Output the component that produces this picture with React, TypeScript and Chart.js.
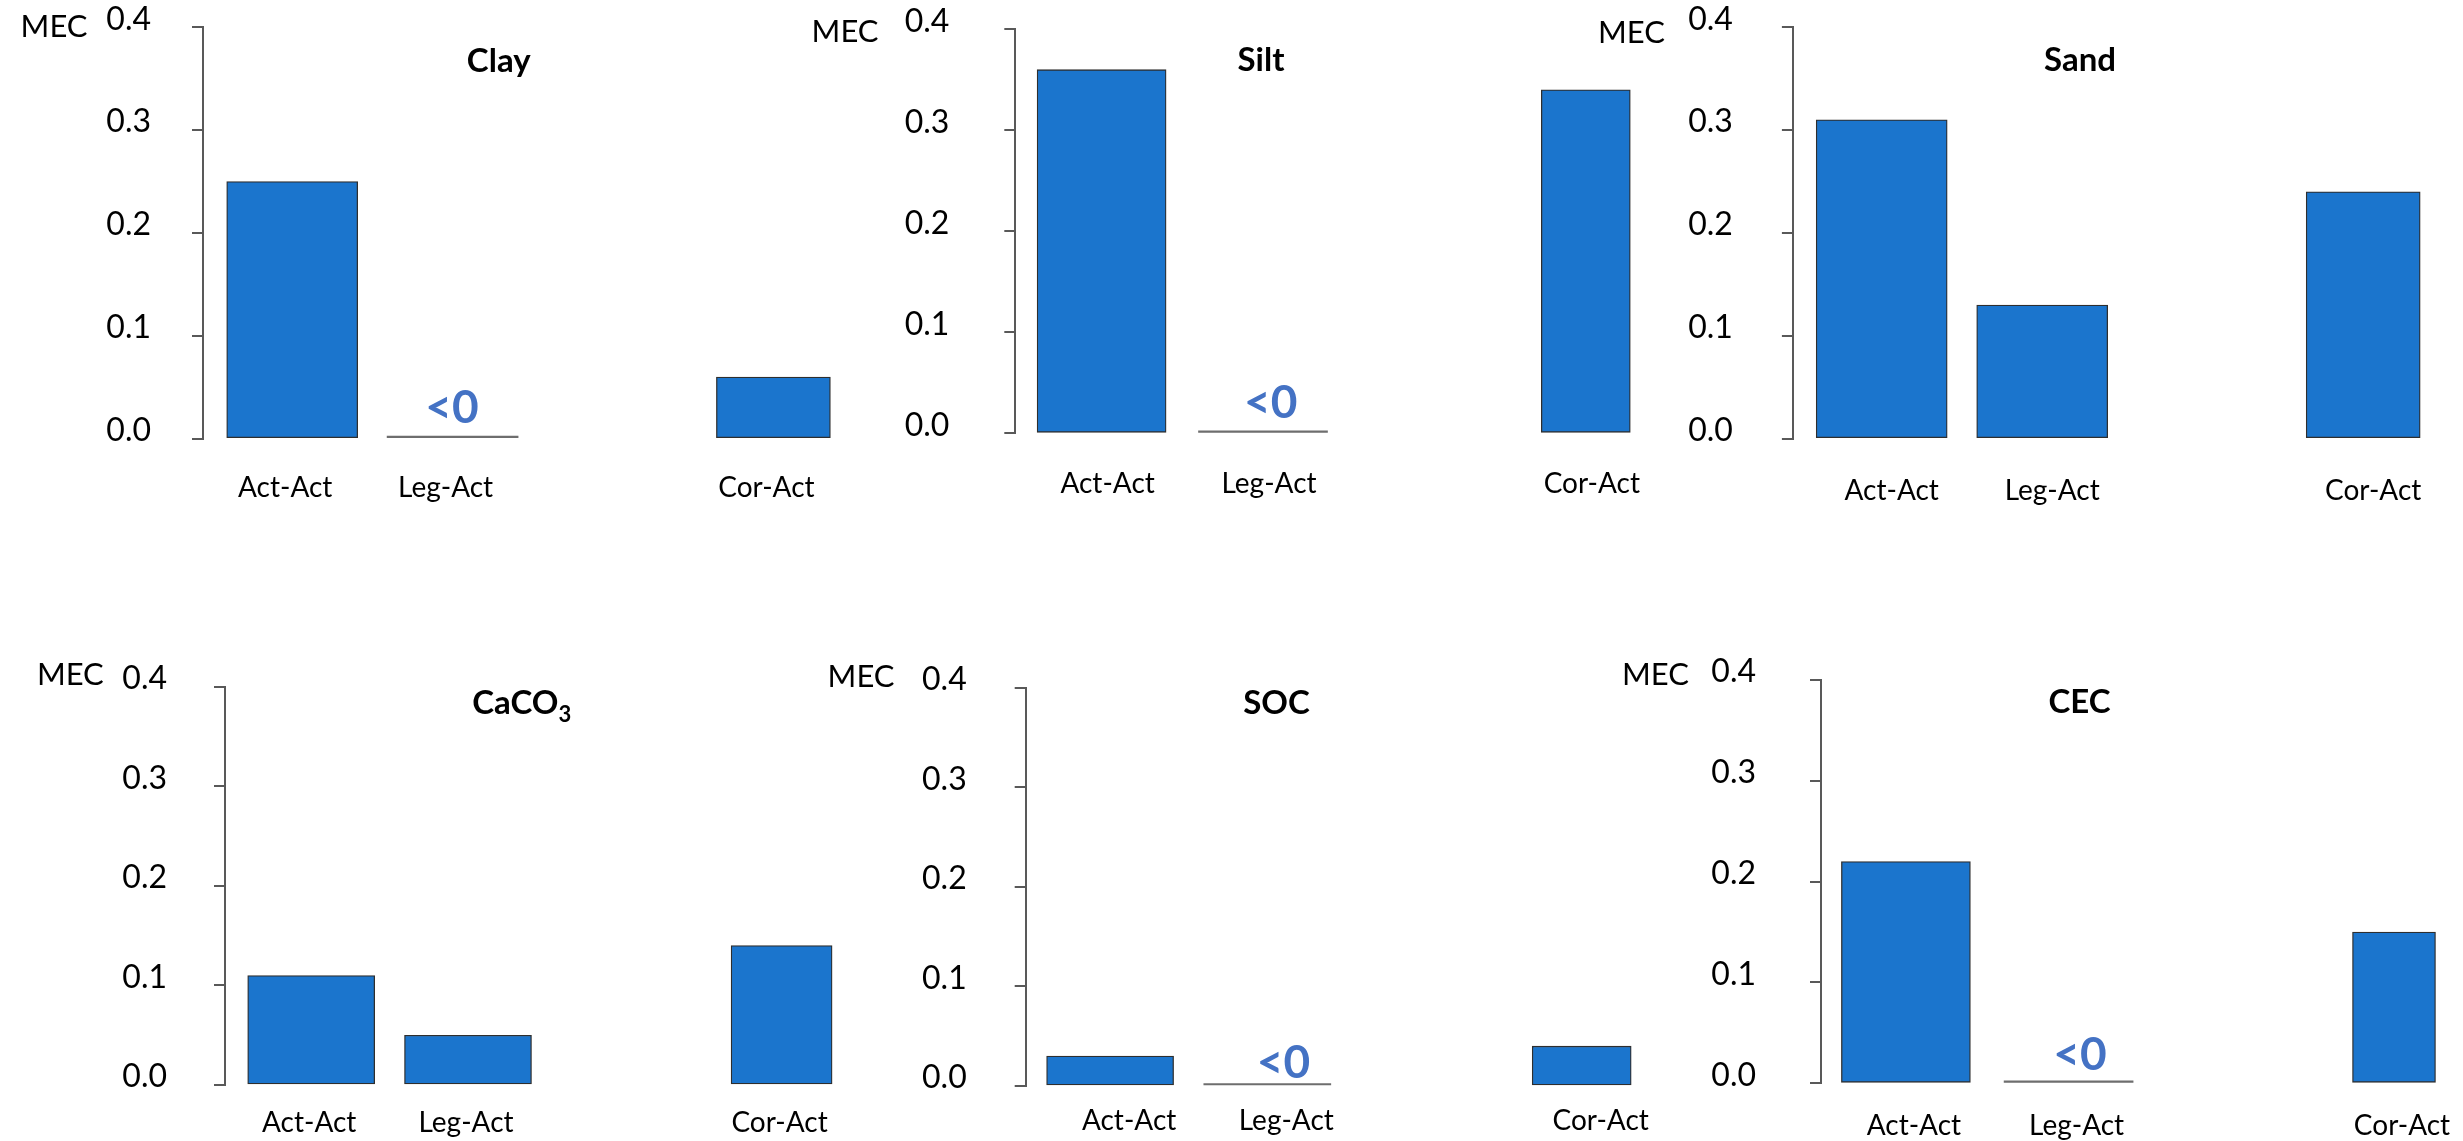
import React, { useEffect, useRef } from "react";
import { Chart, registerables } from "chart.js";

Chart.register(...registerables);

// ---------------- data ----------------
const categories = ["Act-Act", "Leg-Act", "", "Cor-Act"];
const properties = ["Clay", "Silt", "Sand", "CaCO3", "SOC", "CEC"];
const actAct = [0.25, 0.36, 0.31, 0.11, 0.03, 0.22];
const legAct = [0, 0, 0.13, 0.05, 0, 0]; // "<0" values shown on the zero line
const legActBelowZero = [true, true, false, false, true, true];
const corAct = [0.06, 0.34, 0.24, 0.14, 0.04, 0.15];
const yTicks = [0, 0.1, 0.2, 0.3, 0.4];
const yLabel = "MEC";
const belowZeroText = "<0";

// ---------------- layout (page pixels) ----------------
type Layout = {
  cl: number; ct: number; cw: number; ch: number;
  axisX: number; top: number; bottom: number;
  x0: number; step: number;
  wMain: number; wCor: number;
  tickGap: number; xLabelPad: number; xLabelOffset: number;
  mecX: number; mecY: number;
  titleX: number; titleY: number;
  ltX: number; ltY: number;
};

const layouts: Layout[] = [
  { cl: 0, ct: 0, cw: 900, ch: 570, axisX: 203, top: 27.3, bottom: 438.7, x0: 292.2, step: 160.4, wMain: 131, wCor: 114, tickGap: 52, xLabelPad: 32, xLabelOffset: -7, mecX: 20.6, mecY: 26.7, titleX: 498.7, titleY: 61.7, ltX: 452, ltY: 408.3 },
  { cl: 790, ct: 0, cw: 900, ch: 570, axisX: 1015.3, top: 29.3, bottom: 433.3, x0: 1101.6, step: 161.4, wMain: 129, wCor: 89, tickGap: 66, xLabelPad: 34, xLabelOffset: 6, mecX: 811.6, mecY: 31.7, titleX: 1261, titleY: 60, ltX: 1270.8, ltY: 403 },
  { cl: 1580, ct: 0, cw: 900, ch: 570, axisX: 1792.9, top: 27.3, bottom: 438.7, x0: 1881.7, step: 160.5, wMain: 131, wCor: 114, tickGap: 60, xLabelPad: 35, xLabelOffset: 10, mecX: 1598, mecY: 33, titleX: 2080, titleY: 60, ltX: 0, ltY: 0 },
  { cl: 0, ct: 600, cw: 900, ch: 541, axisX: 225, top: 686.7, bottom: 1085, x0: 311.2, step: 156.8, wMain: 127, wCor: 101, tickGap: 58, xLabelPad: 21, xLabelOffset: -2, mecX: 36.9, mecY: 675, titleX: 521.7, titleY: 703, ltX: 0, ltY: 0 },
  { cl: 790, ct: 600, cw: 900, ch: 541, axisX: 1025.7, top: 687.7, bottom: 1086, x0: 1110.1, step: 157.2, wMain: 127, wCor: 99, tickGap: 59, xLabelPad: 18, xLabelOffset: 19, mecX: 827.6, mecY: 676.7, titleX: 1276.5, titleY: 703.3, ltX: 1283.4, ltY: 1063.3 },
  { cl: 1580, ct: 600, cw: 900, ch: 541, axisX: 1821, top: 680, bottom: 1083.3, x0: 1905.9, step: 162.7, wMain: 129, wCor: 83, tickGap: 65, xLabelPad: 26, xLabelOffset: 8, mecX: 1622, mecY: 675, titleX: 2079.5, titleY: 702.7, ltX: 2080, ltY: 1055 },
];

const FONT = "Lato, 'Open Sans', sans-serif";
const BAR_BLUE = "#1B75CD";
const BAR_EDGE = "#2e2e2e";
const ZERO_GRAY = "#6e6e6e";
const AXIS_GRAY = "#595959";
const LT_BLUE = "#4472C4";
const X_MAX = 3.45;
const TICK_LEN = 11;

function Panel({ idx }: { idx: number }) {
  const ref = useRef<HTMLCanvasElement | null>(null);
  const L = layouts[idx];

  useEffect(() => {
    if (!ref.current) return;
    const xMin = (L.axisX - L.x0) / L.step;
    const chartRight = L.x0 + X_MAX * L.step;
    const padRight = L.cl + L.cw - chartRight;
    const padTop = L.top - L.ct;
    const xAxisHeight = L.ct + L.ch - L.bottom;

    const mainData = [0, 1].map((i) => ({
      x: i,
      y: i === 0 ? actAct[idx] : legAct[idx],
    }));
    const corData = [{ x: 3, y: corAct[idx] }];

    const textPlugin = {
      id: "panelText",
      afterDraw(chart: any) {
        const ctx = chart.ctx as CanvasRenderingContext2D;
        ctx.save();
        // MEC label
        ctx.fillStyle = "#000";
        ctx.font = `31px ${FONT}`;
        ctx.textAlign = "left";
        ctx.textBaseline = "middle";
        ctx.fillText(yLabel, L.mecX - L.cl, L.mecY - L.ct);
        // title
        const name = properties[idx];
        ctx.font = `bold 33px ${FONT}`;
        ctx.textAlign = "center";
        if (name === "CaCO3") {
          const main = "CaCO";
          const wMain = ctx.measureText(main).width;
          ctx.font = `bold 22px ${FONT}`;
          const wSub = ctx.measureText("3").width;
          const total = wMain + wSub;
          const startX = L.titleX - L.cl - total / 2;
          ctx.textAlign = "left";
          ctx.font = `bold 33px ${FONT}`;
          ctx.fillText(main, startX, L.titleY - L.ct);
          ctx.font = `bold 22px ${FONT}`;
          ctx.fillText("3", startX + wMain, L.titleY - L.ct + 12);
        } else {
          ctx.fillText(name, L.titleX - L.cl, L.titleY - L.ct);
        }
        // "<0" annotation
        if (legActBelowZero[idx]) {
          const xs = chart.scales.x;
          const ys = chart.scales.y;
          const dx = L.ltX - (L.x0 + L.step);
          const dy = L.ltY - L.bottom;
          ctx.font = `bold 46px ${FONT}`;
          ctx.fillStyle = LT_BLUE;
          ctx.textAlign = "center";
          ctx.textBaseline = "middle";
          ctx.fillText(belowZeroText, xs.getPixelForValue(1) + dx, ys.getPixelForValue(legAct[idx]) + dy);
        }
        ctx.restore();
      },
    };

    const chart = new Chart(ref.current, {
      type: "bar",
      data: {
        datasets: [
          {
            data: mainData as any,
            barThickness: L.wMain,
            backgroundColor: (c: any) =>
              c.raw && c.raw.y === 0 ? ZERO_GRAY : BAR_BLUE,
            borderColor: BAR_EDGE,
            borderWidth: (c: any) => (c.raw && c.raw.y === 0 ? 0 : 1.3),
            borderSkipped: false,
            minBarLength: 2.5,
            grouped: false,
          } as any,
          {
            data: corData as any,
            barThickness: L.wCor,
            backgroundColor: BAR_BLUE,
            borderColor: BAR_EDGE,
            borderWidth: 1.3,
            borderSkipped: false,
            grouped: false,
          } as any,
        ],
      },
      options: {
        animation: false,
        responsive: false,
        maintainAspectRatio: false,
        devicePixelRatio: 1,
        layout: { padding: { top: padTop, left: 0, right: padRight, bottom: 0 } },
        plugins: {
          legend: { display: false },
          tooltip: { enabled: false },
          title: { display: false },
        },
        scales: {
          x: {
            type: "linear",
            min: xMin,
            max: X_MAX,
            offset: false,
            grid: { display: false, drawTicks: false, offset: false },
            border: { display: false },
            afterBuildTicks: (s: any) => {
              s.ticks = [0, 1, 3].map((v) => ({ value: v }));
            },
            ticks: {
              autoSkip: false,
              maxRotation: 0,
              minRotation: 0,
              padding: L.xLabelPad,
              labelOffset: L.xLabelOffset,
              color: "#000",
              font: { family: FONT, size: 28 },
              callback: (v: any) => categories[Math.round(Number(v))] ?? "",
            },
            afterFit: (s: any) => {
              s.height = xAxisHeight;
              s.paddingLeft = 0;
              s.paddingRight = 0;
              s.paddingTop = 0;
              s.paddingBottom = 0;
            },
          } as any,
          y: {
            type: "linear",
            min: yTicks[0],
            max: yTicks[yTicks.length - 1],
            afterBuildTicks: (s: any) => {
              s.ticks = yTicks.map((v) => ({ value: v }));
            },
            ticks: {
              padding: L.tickGap - TICK_LEN,
              labelOffset: -8,
              color: "#000",
              font: { family: FONT, size: 32 },
              callback: (v: any) => Number(v).toFixed(1),
            },
            grid: {
              display: true,
              drawOnChartArea: false,
              drawTicks: true,
              tickLength: TICK_LEN,
              color: AXIS_GRAY,
              lineWidth: 2,
            },
            border: { display: true, color: AXIS_GRAY, width: 2 },
            afterFit: (s: any) => {
              s.width = L.axisX - L.cl;
              s.paddingTop = 0;
              s.paddingBottom = 0;
              s.paddingLeft = 0;
              s.paddingRight = 0;
            },
          } as any,
        },
      },
      plugins: [textPlugin],
    });
    return () => chart.destroy();
  }, [idx]);

  return (
    <canvas
      ref={ref}
      width={L.cw}
      height={L.ch}
      style={{
        position: "absolute",
        left: L.cl,
        top: L.ct,
        width: L.cw,
        height: L.ch,
      }}
    />
  );
}

export default function App() {
  return (
    <div
      style={{
        position: "fixed",
        left: 0,
        top: 0,
        width: 2463,
        height: 1141,
        background: "#fff",
        overflow: "hidden",
      }}
    >
      {properties.map((_, i) => (
        <Panel key={i} idx={i} />
      ))}
    </div>
  );
}
